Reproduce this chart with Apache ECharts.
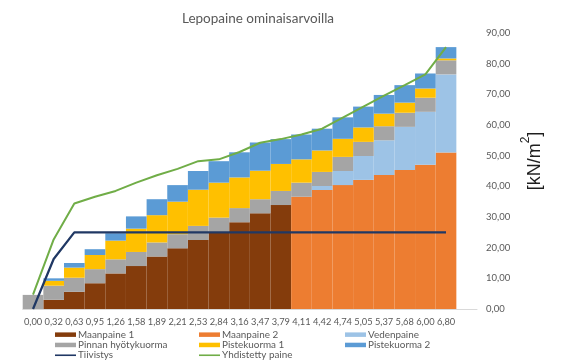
<!DOCTYPE html>
<html>
<head>
<meta charset="utf-8">
<script src="https://cdn.jsdelivr.net/npm/echarts@6/dist/echarts.min.js"></script>
<style>
html,body{margin:0;padding:0;background:#fff;}
#c{width:564px;height:363px;}
</style>
</head>
<body>
<div id="c"></div>
<script>
var categories = ['0,00','0,32','0,63','0,95','1,26','1,58','1,89','2,21','2,53','2,84','3,16','3,47','3,79','4,11','4,42','4,74','5,05','5,37','5,68','6,00','6,80'];
var maanpaine1 = [0, 3.0, 5.6, 8.4, 11.6, 14.0, 17.1, 19.8, 22.5, 25.2, 28.3, 31.2, 33.9, 0, 0, 0, 0, 0, 0, 0, 0];
var maanpaine2 = [0, 0, 0, 0, 0, 0, 0, 0, 0, 0, 0, 0, 0, 36.6, 38.8, 40.4, 42.1, 43.7, 45.3, 47.0, 51.0];
var vedenpaine = [0, 0, 0, 0, 0, 0, 0, 0, 0, 0, 0, 0, 0, 0, 1.3, 4.6, 7.8, 11.3, 14.1, 17.3, 25.5];
var pinnanHyotykuorma = [4.6, 4.6, 4.6, 4.6, 4.6, 4.6, 4.6, 4.6, 4.6, 4.6, 4.6, 4.6, 4.6, 4.6, 4.6, 4.6, 4.6, 4.6, 4.6, 4.6, 4.6];
var pistekuorma1 = [0, 1.6, 3.3, 4.6, 6.1, 7.6, 8.9, 10.6, 11.8, 11.4, 10.0, 9.3, 8.8, 7.6, 7.0, 5.9, 4.7, 4.1, 3.3, 3.0, 0.6];
var pistekuorma2 = [0, 0.8, 1.5, 1.9, 2.4, 4.0, 5.2, 5.4, 6.1, 7.0, 8.2, 9.2, 8.1, 8.1, 7.1, 7.0, 6.8, 6.1, 5.7, 4.9, 3.7];
var tiivistys = [0, 16.3, 25, 25, 25, 25, 25, 25, 25, 25, 25, 25, 25, 25, 25, 25, 25, 25, 25, 25, 25];
var yhdistettyPaine = [4.7, 22.7, 34.4, 36.6, 38.5, 41.2, 43.6, 45.7, 48.2, 48.8, 51.2, 54.2, 55.4, 56.9, 58.8, 62.4, 66.0, 69.6, 73.0, 76.5, 85.4];
var yTicks = {min: 0, max: 90, interval: 10};

var FONT = 'Lato';
var TXT = '#595959';

function bar(name, data, color) {
  return {
    name: name, type: 'bar', stack: 'total', data: data,
    barCategoryGap: '0%', itemStyle: {color: color},
    emphasis: {disabled: true}, animation: false
  };
}
function line(name, data, color, w) {
  return {
    name: name, type: 'line', data: data, symbol: 'none',
    lineStyle: {color: color, width: w}, itemStyle: {color: color},
    emphasis: {disabled: true}, animation: false, z: 5
  };
}
var LINE_ICON = 'path://M0,0h21v1.6h-21z';
function legendCol(left, data) {
  return {
    orient: 'vertical', left: left, top: 329.5, height: 40, width: 160,
    itemWidth: 21, itemHeight: 4.5, itemGap: 0, padding: 0,
    textStyle: {fontFamily: FONT, fontSize: 9.9, color: TXT, lineHeight: 10.3, padding: [0, 0, 0, -3]},
    selectedMode: false, icon: 'rect', data: data
  };
}

var chart = echarts.init(document.getElementById('c'), null, {renderer: 'canvas'});
chart.setOption({
  animation: false,
  title: {
    text: 'Lepopaine ominaisarvoilla', left: 253, top: 7, textAlign: 'center',
    textStyle: {fontFamily: FONT, fontSize: 13.5, fontWeight: 'normal', color: TXT}
  },
  legend: [
    legendCol(55, ['Maanpaine 1', 'Pinnan hyötykuorma', {name: 'Tiivistys', icon: LINE_ICON, itemHeight: 1.6}]),
    legendCol(199, ['Maanpaine 2', 'Pistekuorma 1', {name: 'Yhdistetty paine', icon: LINE_ICON, itemHeight: 1.6}]),
    legendCol(345, ['Vedenpaine', 'Pistekuorma 2'])
  ],
  grid: {left: 22.7, right: 87, top: 33, bottom: 54, containLabel: false},
  xAxis: {
    type: 'category', data: categories.concat(['']),
    axisLine: {lineStyle: {color: '#d9d9d9', width: 1}},
    axisTick: {show: false},
    axisLabel: {interval: 0, fontFamily: FONT, fontSize: 9.3, color: TXT, margin: 8}
  },
  yAxis: {
    type: 'value', position: 'right', min: yTicks.min, max: yTicks.max, interval: yTicks.interval,
    axisLine: {show: false}, axisTick: {show: false}, splitLine: {show: false},
    axisLabel: {fontFamily: FONT, fontSize: 9.5, color: TXT, margin: 9, align: 'left',
      formatter: function (v) { return v.toFixed(2).replace('.', ','); }}
  },
  graphic: [{
    type: 'text', x: 532, y: 161, rotation: Math.PI / 2,
    style: {
      text: '{a|[kN/m}{b|2}{a|]}', align: 'center', verticalAlign: 'middle',
      rich: {
        a: {fontFamily: 'Liberation Sans', fontSize: 18, fill: '#1f1f1f', lineHeight: 24, verticalAlign: 'bottom'},
        b: {fontFamily: 'Liberation Sans', fontSize: 12, fill: '#1f1f1f', lineHeight: 24, verticalAlign: 'top'}
      }
    }
  }],
  series: [
    bar('Maanpaine 1', maanpaine1, '#843C0C'),
    bar('Maanpaine 2', maanpaine2, '#ED7D31'),
    bar('Vedenpaine', vedenpaine, '#9DC3E6'),
    bar('Pinnan hyötykuorma', pinnanHyotykuorma, '#A5A5A5'),
    bar('Pistekuorma 1', pistekuorma1, '#FFC000'),
    bar('Pistekuorma 2', pistekuorma2, '#5B9BD5'),
    line('Tiivistys', tiivistys, '#203864', 2.25),
    line('Yhdistetty paine', yhdistettyPaine, '#70AD47', 2)
  ]
});
</script>
</body>
</html>
